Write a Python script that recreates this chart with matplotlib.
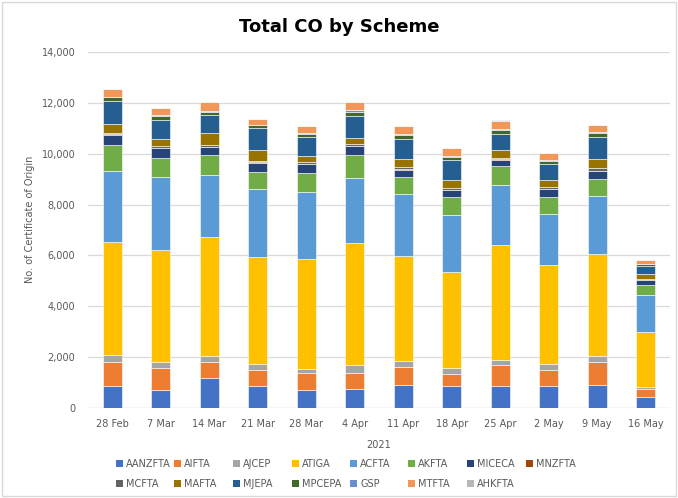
import matplotlib
matplotlib.use("Agg")
import matplotlib.pyplot as plt
import numpy as np
from matplotlib.patches import Rectangle, Patch

# data
weeks = ['28 Feb', '7 Mar', '14 Mar', '21 Mar', '28 Mar', '4 Apr',
         '11 Apr', '18 Apr', '25 Apr', '2 May', '9 May', '16 May']

AANZFTA = [852, 694, 1179, 852, 694, 760, 917, 852, 852, 852, 917, 419]
AIFTA = [943, 865, 616, 630, 680, 615, 694, 500, 825, 655, 878, 328]
AJCEP = [300, 262, 235, 250, 170, 300, 250, 220, 196, 210, 262, 92]
ATIGA = [4440, 4400, 4690, 4220, 4310, 4795, 4100, 3760, 4546, 3890, 3982, 2136]
ACFTA = [2770, 2880, 2424, 2660, 2660, 2568, 2450, 2240, 2358, 2030, 2306, 1454]
AKFTA = [1040, 746, 812, 655, 747, 917, 668, 708, 734, 680, 670, 406]
MICECA = [400, 370, 300, 380, 330, 330, 290, 275, 250, 300, 290, 197]
MNZFTA = [20, 15, 20, 15, 15, 20, 20, 15, 15, 10, 30, 10]
MCFTA = [50, 55, 60, 50, 50, 70, 70, 75, 55, 45, 100, 43]
MAFTA = [370, 285, 470, 420, 260, 260, 340, 330, 330, 275, 365, 196]
MJEPA = [880, 760, 720, 890, 735, 865, 770, 760, 630, 655, 850, 300]
MPCEPA = [160, 155, 130, 90, 120, 130, 160, 150, 160, 120, 160, 65]
GSP = [20, 25, 40, 25, 40, 80, 30, 30, 30, 25, 30, 25]
MTFTA = [290, 275, 330, 240, 290, 315, 340, 300, 320, 275, 300, 145]
AHKFTA = [8, 6, 8, 6, 6, 8, 6, 6, 6, 5, 6, 4]

series = [
    ('AANZFTA', AANZFTA, '#4472C4'),
    ('AIFTA', AIFTA, '#ED7D31'),
    ('AJCEP', AJCEP, '#A5A5A5'),
    ('ATIGA', ATIGA, '#FFC000'),
    ('ACFTA', ACFTA, '#5B9BD5'),
    ('AKFTA', AKFTA, '#70AD47'),
    ('MICECA', MICECA, '#264478'),
    ('MNZFTA', MNZFTA, '#9E480E'),
    ('MCFTA', MCFTA, '#636363'),
    ('MAFTA', MAFTA, '#997300'),
    ('MJEPA', MJEPA, '#255E91'),
    ('MPCEPA', MPCEPA, '#43682B'),
    ('GSP', GSP, '#698ED0'),
    ('MTFTA', MTFTA, '#F1975A'),
    ('AHKFTA', AHKFTA, '#B7B7B7'),
]

plt.rcParams['font.family'] = ['DejaVu Sans']
txt = '#595959'

fig = plt.figure(figsize=(6.78, 4.98), dpi=100)
ax = fig.add_axes([88 / 678, 1 - 408 / 498, 582 / 678, 356 / 498])

x = np.arange(len(weeks))
bottom = np.zeros(len(weeks))
handles = []
for name, vals, col in series:
    v = np.array(vals, dtype=float)
    ax.bar(x, v, 0.4, bottom=bottom, color=col, label=name,
           edgecolor='white', linewidth=0.4, zorder=3)
    bottom += v
    handles.append(Patch(facecolor=col, label=name))

ax.set_xlim(-0.5, len(weeks) - 0.5)
ax.set_ylim(0, 14000)
ax.set_yticks(np.arange(0, 14001, 2000))
ax.set_yticklabels([f'{t:,}' for t in range(0, 14001, 2000)])
ax.set_xticks(x)
ax.set_xticklabels(weeks)
ax.tick_params(length=0, labelsize=7, colors=txt)
ax.tick_params(axis='y', pad=9)
ax.tick_params(axis='x', pad=8)
ax.grid(axis='y', color='#D9D9D9', linewidth=0.9, zorder=0)
for s in ax.spines.values():
    s.set_visible(False)
ax.axhline(0, color='#D9D9D9', linewidth=0.9, zorder=1)
ax.set_xlabel('2021', fontsize=7, color=txt, labelpad=8)
ax.set_ylabel('No. of Certificate of Origin', fontsize=7, color=txt)
ax.yaxis.set_label_coords(-53 / 582, 0.53)

fig.text(0.5, 1 - 27 / 498, 'Total CO by Scheme', ha='center', va='center',
         fontsize=13, fontweight='bold', color='black')

# legend laid out in 8 fixed columns, two rows
col_x = [116, 174, 233, 292, 350, 408, 467, 526]
for j in range(8):
    hs = [handles[j]]
    if j + 8 < len(handles):
        hs.append(handles[j + 8])
    fig.legend(handles=hs, loc='upper left',
               bbox_to_anchor=(col_x[j] / 678, 1 - 459 / 498),
               frameon=False, fontsize=7, labelcolor=txt,
               handlelength=0.75, handleheight=0.75, handletextpad=0.3,
               labelspacing=1.0, borderpad=0, borderaxespad=0)

fig.patches.append(Rectangle((2 / 678, 2 / 498), 674 / 678, 494 / 498,
                             transform=fig.transFigure, fill=False,
                             edgecolor='#D9D9D9', linewidth=1))

fig.savefig('out.png', dpi=100)
